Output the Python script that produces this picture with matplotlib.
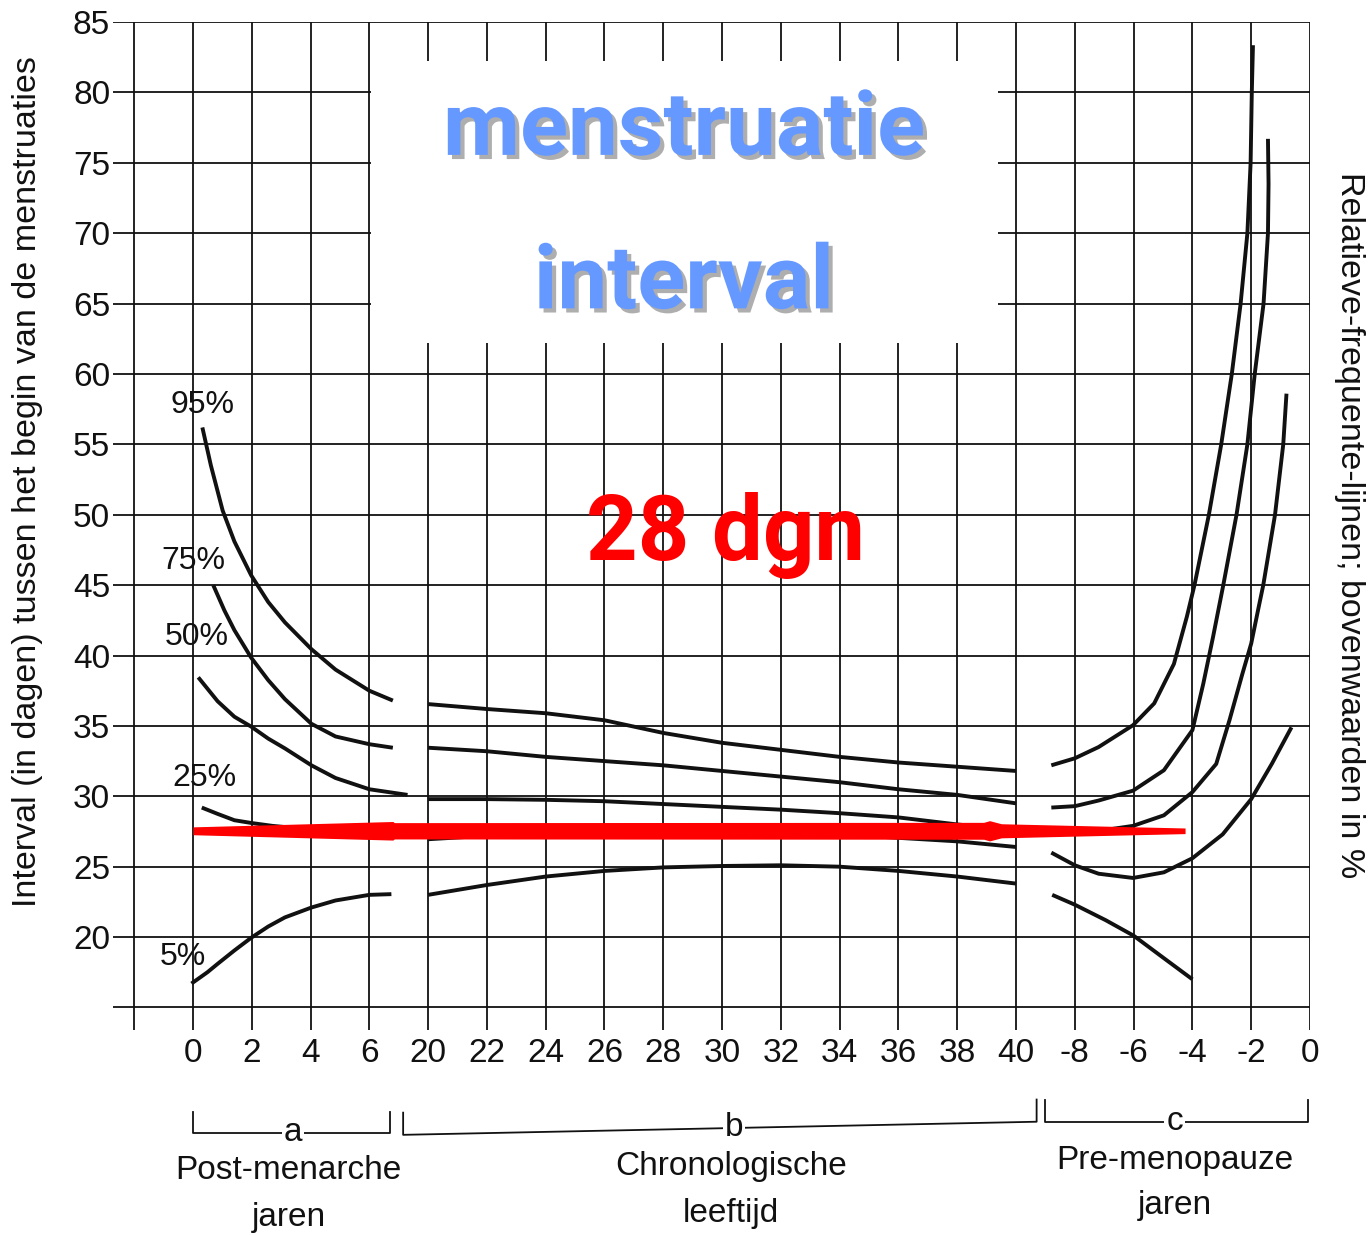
import numpy as np
import matplotlib
matplotlib.use("Agg")
import matplotlib.pyplot as plt
import matplotlib.patheffects as pe
from matplotlib.patches import Rectangle

plt.rcParams['font.family'] = ['Liberation Sans', 'DejaVu Sans']

# ================= Data =================
# panel a: post-menarche years
a_p95_x = [0.32, 0.61, 1.01, 1.41, 1.98, 2.56, 3.13, 4.03, 4.85, 6.0, 6.8]
a_p95_y = [56.2, 53.5, 50.3, 48.1, 45.7, 43.8, 42.35, 40.45, 39.0, 37.5, 36.8]
a_p75_x = [0.69, 1.07, 1.41, 1.98, 2.56, 3.13, 4.03, 4.85, 6.0, 6.8]
a_p75_y = [45.0, 43.2, 41.8, 39.85, 38.25, 36.9, 35.15, 34.25, 33.7, 33.45]
a_p50_x = [0.18, 0.84, 1.41, 1.98, 2.56, 3.13, 4.03, 4.85, 6.0, 7.3]
a_p50_y = [38.45, 36.75, 35.65, 34.95, 34.1, 33.4, 32.2, 31.3, 30.5, 30.1]
a_p25_x = [0.3, 0.84, 1.41, 2.0, 2.7, 4.0, 5.5, 6.8]
a_p25_y = [29.2, 28.75, 28.3, 28.1, 27.9, 27.65, 27.5, 27.45]
a_p05_x = [-0.05, 0.49, 0.84, 1.41, 1.98, 2.56, 3.13, 4.03, 4.85, 6.0, 6.75]
a_p05_y = [16.7, 17.5, 18.1, 19.05, 19.95, 20.75, 21.4, 22.1, 22.6, 23.0, 23.05]

# panel b: chronological age
b_age = [20, 22, 24, 26, 28, 30, 32, 34, 36, 38, 40]
b_p95 = [36.55, 36.2, 35.9, 35.4, 34.5, 33.8, 33.3, 32.8, 32.4, 32.1, 31.8]
b_p75 = [33.45, 33.2, 32.8, 32.5, 32.2, 31.8, 31.4, 31.0, 30.5, 30.1, 29.5]
b_p50 = [29.8, 29.8, 29.75, 29.65, 29.45, 29.25, 29.05, 28.8, 28.5, 28.0, 27.6]
b_p25 = [26.95, 27.2, 27.4, 27.5, 27.55, 27.5, 27.45, 27.3, 27.05, 26.8, 26.4]
b_p05 = [23.0, 23.7, 24.3, 24.7, 24.95, 25.05, 25.1, 25.0, 24.7, 24.3, 23.8]

# panel c: pre-menopause years
c_p95_x = [-8.8, -8.0, -7.19, -6.02, -5.3, -4.63, -4.19, -3.93, -3.44, -3.02, -2.66, -2.36, -2.13, -2.02, -1.98, -1.94]
c_p95_y = [32.2, 32.7, 33.5, 35.05, 36.6, 39.4, 42.75, 45.0, 50.0, 55.0, 60.0, 65.0, 70.0, 75.0, 80.0, 83.35]
c_p75_x = [-8.8, -8.0, -7.19, -6.02, -4.97, -4.0, -3.63, -3.3, -2.95, -2.5, -2.13, -1.88, -1.58, -1.43, -1.41, -1.43]
c_p75_y = [29.2, 29.3, 29.7, 30.4, 31.85, 34.7, 38.0, 41.3, 45.0, 50.0, 55.0, 60.0, 65.0, 70.0, 73.5, 76.7]
c_p50_x = [-8.8, -8.0, -7.0, -6.02, -4.97, -4.0, -3.19, -2.74, -2.3, -2.0, -1.74, -1.59, -1.19, -0.91, -0.8]
c_p50_y = [27.5, 27.5, 27.6, 27.9, 28.65, 30.3, 32.3, 35.4, 38.7, 40.85, 43.5, 45.0, 50.0, 55.0, 58.6]
c_p25_x = [-8.8, -8.0, -7.19, -6.02, -4.97, -4.0, -2.97, -2.0, -1.3, -0.63]
c_p25_y = [26.0, 25.1, 24.5, 24.2, 24.6, 25.6, 27.3, 29.8, 32.3, 34.9]
c_p05_x = [-8.77, -8.0, -6.95, -6.0, -4.97, -4.0]
c_p05_y = [23.0, 22.3, 21.2, 20.1, 18.5, 17.0]

# ticks / grid
a_grid = [-2, 0, 2, 4, 6]
b_grid = [20, 22, 24, 26, 28, 30, 32, 34, 36, 38, 40]
c_grid = [-8, -6, -4, -2, 0]
y_grid = [15, 20, 25, 30, 35, 40, 45, 50, 55, 60, 65, 70, 75, 80, 85]
y_labels = [20, 25, 30, 35, 40, 45, 50, 55, 60, 65, 70, 75, 80, 85]

pct_labels = ['95%', '75%', '50%', '25%', '5%']
pct_label_a = [0.34, 0.0, 0.14, 0.4, -0.34]
pct_label_y = [57.8, 46.7, 41.3, 31.3, 18.6]

# red "28 dgn" arrow: value, half widths (days) along the arrow
arrow_value = 27.55
arrow_half = [0.28, 0.66, 0.58, 0.6, 0.72, 0.5, 0.2]

# ================= Layout: three panels on one grid =================
def pos_a(x):
    return np.asarray(x, dtype=float) / 2.0

def pos_b(x):
    return 4 + (np.asarray(x, dtype=float) - 20) / 2.0

def pos_c(x):
    return 15 + (np.asarray(x, dtype=float) + 8) / 2.0

INK = '#111111'
LW_CURVE = 2.8
LW_GRID = 1.3

fig = plt.figure(figsize=(13.68, 12.35), dpi=100)
ax = fig.add_axes([113 / 1368, 1 - 1030 / 1235, 1197 / 1368, 1008 / 1235])
ax.set_xlim(-1.36, 19)
ax.set_ylim(13.4, 85)
for s in ax.spines.values():
    s.set_visible(False)

# grid
for v in y_grid:
    ax.axhline(v, color=INK, lw=LW_GRID, zorder=1)
for k in np.concatenate([pos_a(a_grid), pos_b(b_grid), pos_c(c_grid)]):
    ax.axvline(k, color=INK, lw=LW_GRID, zorder=1)

# white box behind the title (covers part of the grid)
box_left = pos_a(6) + 0.02
box_right = pos_b(39.4)
ax.add_patch(Rectangle((box_left, 62.2), box_right - box_left, 20.0,
                       facecolor='white', edgecolor='none', zorder=2))

# percentile curves
curves = [
    (pos_a(a_p95_x), a_p95_y), (pos_a(a_p75_x), a_p75_y), (pos_a(a_p50_x), a_p50_y),
    (pos_a(a_p25_x), a_p25_y), (pos_a(a_p05_x), a_p05_y),
    (pos_b(b_age), b_p95), (pos_b(b_age), b_p75), (pos_b(b_age), b_p50),
    (pos_b(b_age), b_p25), (pos_b(b_age), b_p05),
    (pos_c(c_p95_x), c_p95_y), (pos_c(c_p75_x), c_p75_y), (pos_c(c_p50_x), c_p50_y),
    (pos_c(c_p25_x), c_p25_y), (pos_c(c_p05_x), c_p05_y),
]
for xs, ys in curves:
    ax.plot(xs, ys, color=INK, lw=LW_CURVE, solid_capstyle='butt',
            solid_joinstyle='round', zorder=3)

for lab, xa, ya in zip(pct_labels, pct_label_a, pct_label_y):
    ax.text(pos_a(xa), ya, lab, fontsize=23, color=INK, ha='center', va='center', zorder=4)

# red double arrow at ~28 days
arrow_k = np.array([pos_a(0), pos_a(6.8), pos_a(6.85), pos_b(38.9), pos_b(39.1),
                    pos_b(39.5), pos_c(-4.25)])
half = np.array(arrow_half)
ax.fill_between(arrow_k, arrow_value - half, arrow_value + half,
                color='#ff0000', lw=0, zorder=5)

# title texts
shadow = [pe.withSimplePatchShadow(offset=(3, -3), shadow_rgbFace='#a0a0a0', alpha=0.85)]
ax.text(pos_b(28.7), 77.3, 'menstruatie', fontsize=64, fontweight='bold',
        family=['Roboto', 'DejaVu Sans'], color='#6699ff', ha='center', va='center',
        path_effects=shadow, zorder=6)
ax.text(pos_b(28.7), 66.4, 'interval', fontsize=64, fontweight='bold',
        family=['Roboto', 'DejaVu Sans'], color='#6699ff', ha='center', va='center',
        path_effects=shadow, zorder=6)
ax.text(pos_b(30.1), 46.8, '28 dgn', fontsize=65, fontweight='bold',
        family=['Roboto', 'DejaVu Sans'], color='#ff0000', ha='center', va='baseline',
        zorder=6)

# ticks
xt = np.concatenate([pos_a(a_grid[1:]), pos_b(b_grid), pos_c(c_grid)])
xl = [str(v) for v in a_grid[1:]] + [str(v) for v in b_grid] + [str(v) for v in c_grid]
ax.set_xticks(xt)
ax.set_xticklabels(xl)
ax.set_yticks(y_labels)
ax.set_yticklabels([str(v) for v in y_labels])
ax.tick_params(axis='x', length=0, pad=6, labelsize=24, colors=INK)
ax.tick_params(axis='y', length=0, pad=2, labelsize=24, colors=INK)

fig.text(28 / 1368, 1 - 482 / 1235,
         'Interval (in dagen) tussen het begin van de menstruaties',
         rotation=90, ha='center', va='center', fontsize=24.5, color=INK)
fig.text(1350 / 1368, 1 - 525 / 1235,
         'Relatieve-frequente-lijnen; bovenwaarden in %',
         rotation=270, ha='center', va='center', fontsize=24.5, color=INK)

# brackets under the axis: (x0, x1, y_left, y_right, tick_top, letter, letter_x, lines...)
trans = ax.get_xaxis_transform()
brackets = [
    (pos_a(0), pos_a(6.7), -0.102, -0.102, 0.021, 'a', pos_a(3.4),
     ['Post-menarche', 'jaren'], pos_a(3.25), [-0.139, -0.186]),
    (pos_b(19.15), pos_b(40.7), -0.104, -0.091, 0.022, 'b', pos_b(30.4),
     ['Chronologische', 'leeftijd'], pos_b(30.3), [-0.135, -0.182]),
    (pos_c(-9.0), pos_c(-0.07), -0.091, -0.091, 0.022, 'c', pos_c(-4.6),
     ['Pre-menopauze', 'jaren'], pos_c(-4.6), [-0.129, -0.174]),
]
for x0, x1, y0, y1, tk, let, lx, lines, tx, tys in brackets:
    ax.plot([x0, x0, x1, x1], [y0 + tk, y0, y1, y1 + tk], color=INK, lw=1.3,
            transform=trans, clip_on=False)
    ly = y0 + (y1 - y0) * (lx - x0) / (x1 - x0)
    ax.text(lx, ly, let, transform=trans, fontsize=24, color=INK, ha='center', va='center',
            bbox=dict(facecolor='white', edgecolor='none', pad=1.5), clip_on=False)
    for line, ty in zip(lines, tys):
        ax.text(tx, ty, line, transform=trans, fontsize=24, color=INK,
                ha='center', va='center', clip_on=False)

fig.savefig('out.png', dpi=100, facecolor='white')
